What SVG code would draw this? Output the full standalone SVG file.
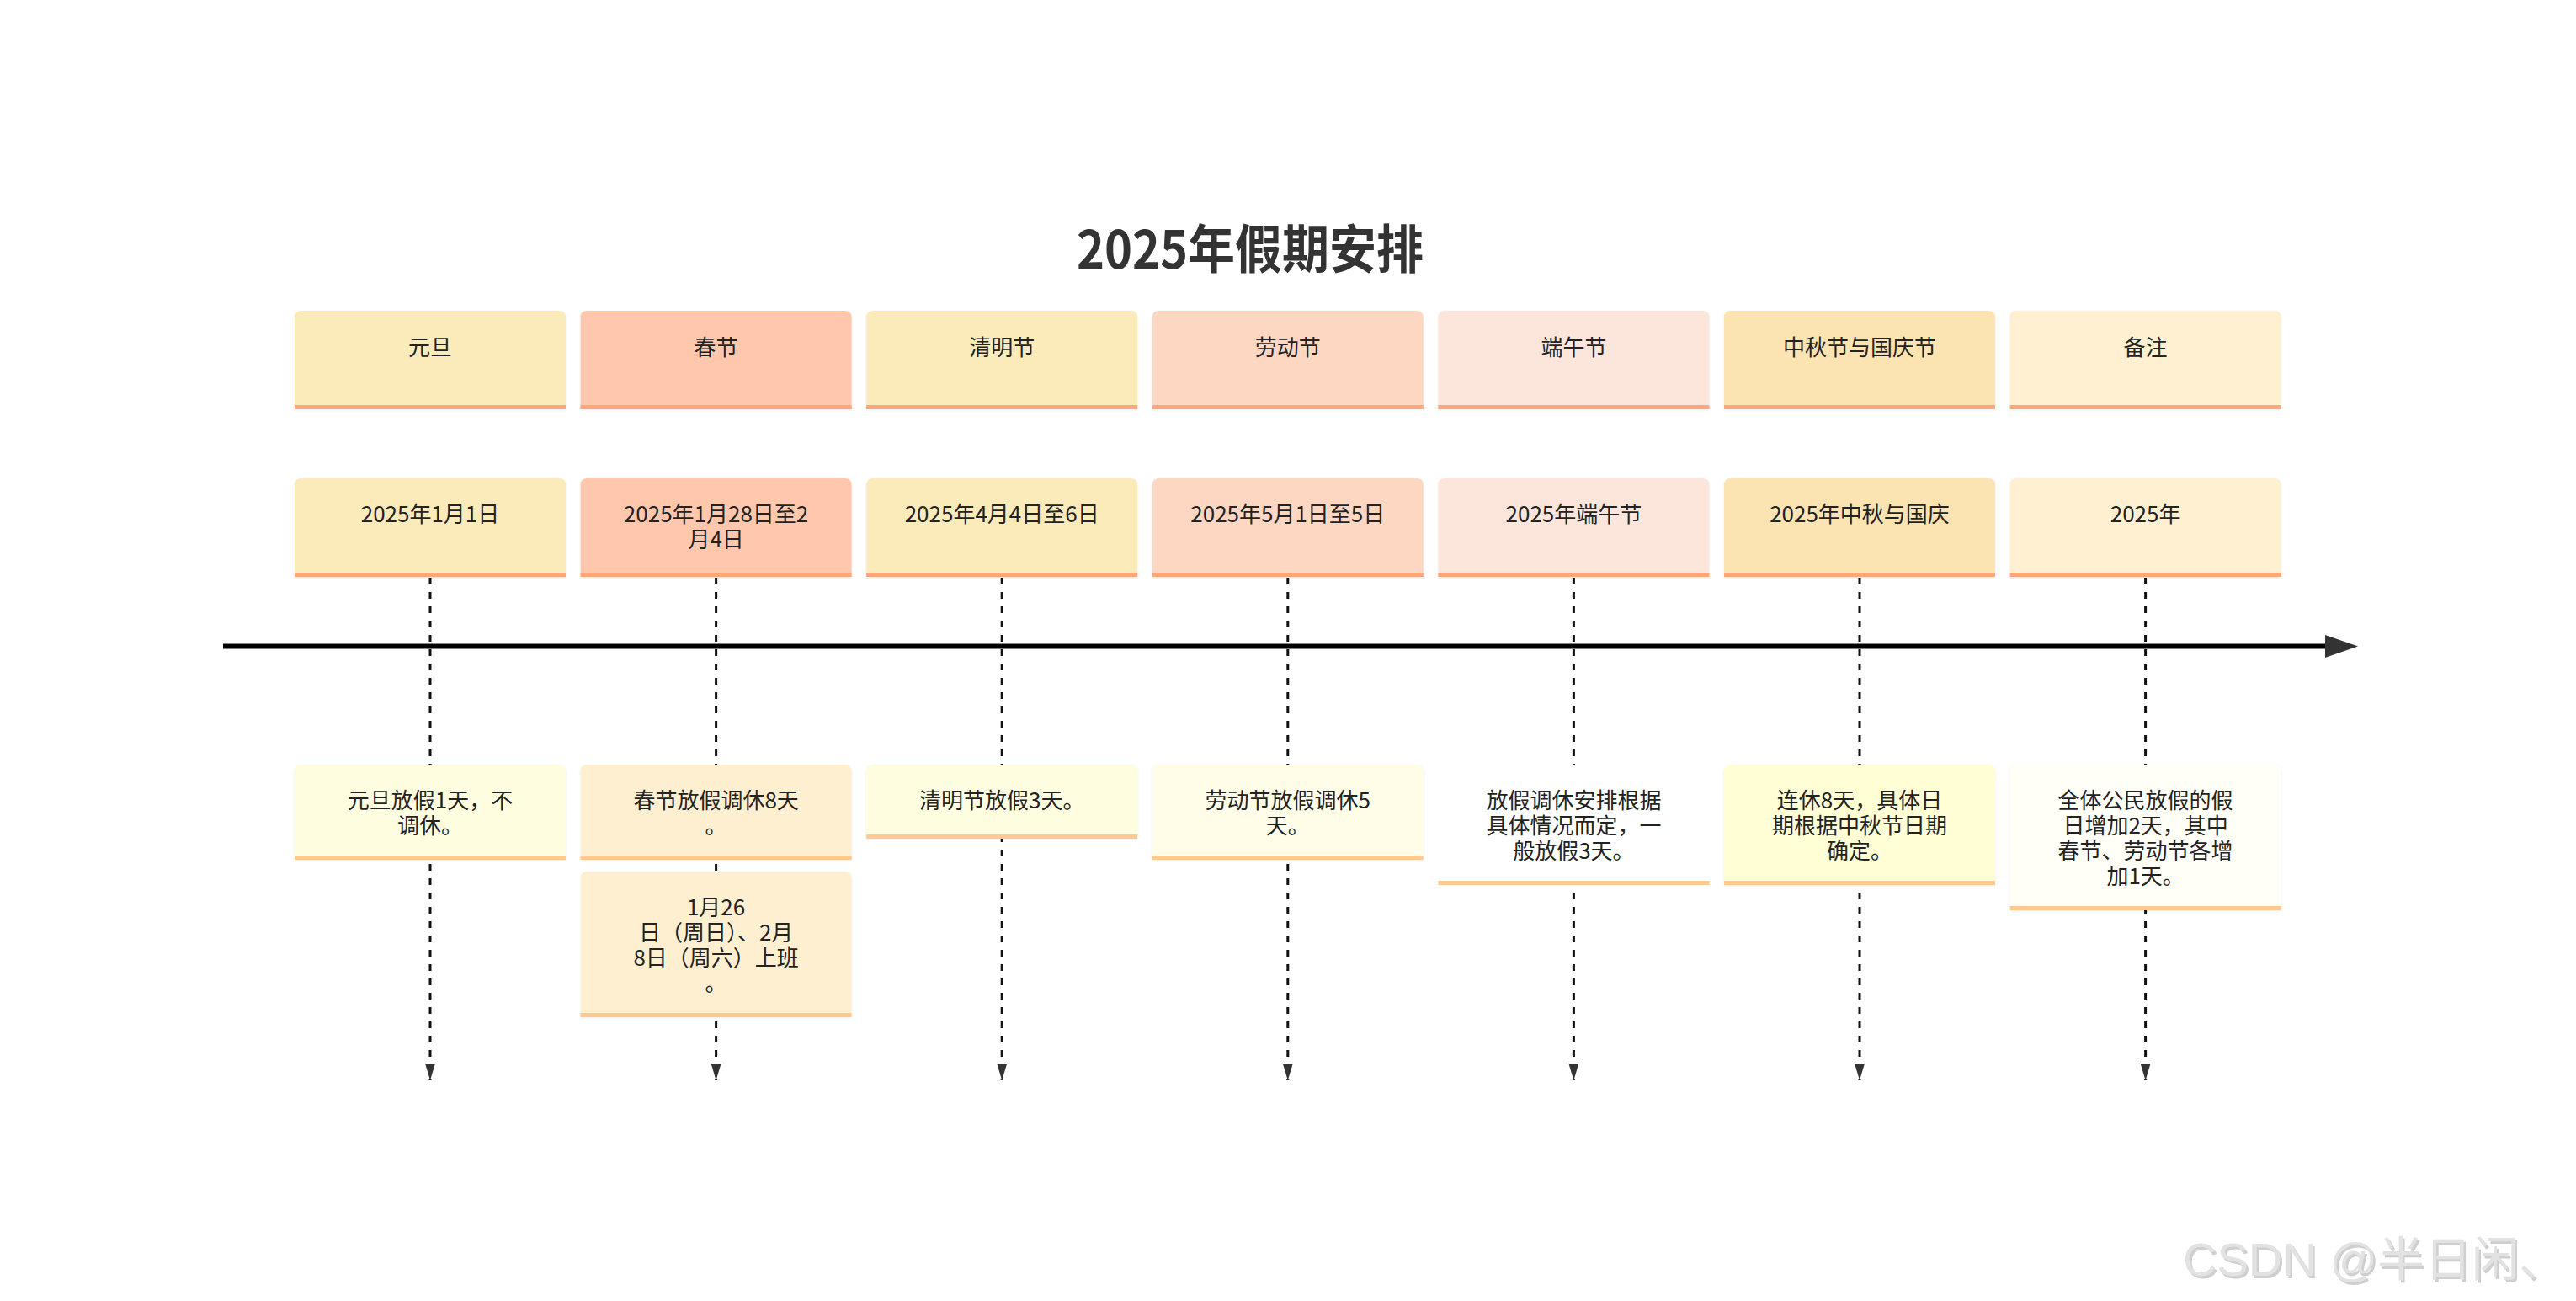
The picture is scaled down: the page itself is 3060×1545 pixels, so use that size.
<svg xmlns="http://www.w3.org/2000/svg" width="3060" height="1545" viewBox="0 0 3060 1545">
<defs>
<style>
.t{font-family:"Noto Sans CJK SC","Noto Sans",sans-serif;font-size:26px;fill:#222;text-anchor:middle}
.title{font-family:"Noto Sans CJK SC","Noto Sans",sans-serif;font-size:62px;font-weight:bold;fill:#333;text-anchor:middle}
.hs{fill:#FFA77B}
.ds{fill:#FFC992}
.dash{stroke:#111;stroke-width:3;stroke-dasharray:8 9;fill:none}
.wm{font-family:"Liberation Sans","Noto Sans CJK SC",sans-serif;font-size:56px;fill:#E2E2E2}
</style>
<marker id="ah" viewBox="0 0 20 12" refX="20" refY="6" markerWidth="20" markerHeight="12" markerUnits="userSpaceOnUse" orient="auto">
<path d="M0,0 L20,6 L0,12 Z" fill="#333"/>
</marker>
<marker id="bigah" viewBox="0 0 39 27" refX="0" refY="13.5" markerWidth="39" markerHeight="27" markerUnits="userSpaceOnUse" orient="auto">
<path d="M0,0 L39,13.5 L0,27 Z" fill="#333"/>
</marker>
<filter id="sh" x="-5%" y="-10%" width="110%" height="125%">
<feDropShadow dx="0" dy="1" stdDeviation="1.5" flood-color="#000" flood-opacity="0.08"/>
</filter>
</defs>
<rect width="3060" height="1545" fill="#fff"/>

<text class="title" x="1485" y="319" textLength="412" lengthAdjust="spacingAndGlyphs">2025年假期安排</text>

<g id="connectors">
<line class="dash" x1="511" y1="686" x2="511" y2="1283" marker-end="url(#ah)"/>
<line class="dash" x1="850.6" y1="686" x2="850.6" y2="1283" marker-end="url(#ah)"/>
<line class="dash" x1="1190.2" y1="686" x2="1190.2" y2="1283" marker-end="url(#ah)"/>
<line class="dash" x1="1529.8" y1="686" x2="1529.8" y2="1283" marker-end="url(#ah)"/>
<line class="dash" x1="1869.4" y1="686" x2="1869.4" y2="1283" marker-end="url(#ah)"/>
<line class="dash" x1="2209" y1="686" x2="2209" y2="1283" marker-end="url(#ah)"/>
<line class="dash" x1="2548.6" y1="686" x2="2548.6" y2="1283" marker-end="url(#ah)"/>
<line x1="265" y1="767.5" x2="2762" y2="767.5" stroke="#000" stroke-width="6" marker-end="url(#bigah)"/>
</g>

<!-- Column 1 -->
<g id="h1"><path d="M350,486 V377 Q350,369 358,369 H664 Q672,369 672,377 V486 Z" fill="#FCEBBA" filter="url(#sh)"/><rect class="hs" x="350" y="481" width="322" height="5"/><text class="t" x="511" y="422">元旦</text></g>
<g id="d1"><path d="M350,685 V576 Q350,568 358,568 H664 Q672,568 672,576 V685 Z" fill="#FCEBBA" filter="url(#sh)"/><rect class="hs" x="350" y="680" width="322" height="5"/><text class="t" x="511" y="620">2025年1月1日</text></g>
<g id="n1"><path d="M350,1021 V916 Q350,908 358,908 H664 Q672,908 672,916 V1021 Z" fill="#FFFDE0" filter="url(#sh)"/><rect class="ds" x="350" y="1016" width="322" height="5"/><text class="t" x="511" y="960">元旦放假1天，不</text><text class="t" x="511" y="990">调休。</text></g>

<!-- Column 2 -->
<g id="h2"><path d="M689.6,486 V377 Q689.6,369 697.6,369 H1003.6 Q1011.6,369 1011.6,377 V486 Z" fill="#FFC8AD" filter="url(#sh)"/><rect class="hs" x="689.6" y="481" width="322" height="5"/><text class="t" x="850.6" y="422">春节</text></g>
<g id="d2"><path d="M689.6,685 V576 Q689.6,568 697.6,568 H1003.6 Q1011.6,568 1011.6,576 V685 Z" fill="#FFC8AD" filter="url(#sh)"/><rect class="hs" x="689.6" y="680" width="322" height="5"/><text class="t" x="850.6" y="620">2025年1月28日至2</text><text class="t" x="850.6" y="650">月4日</text></g>
<g id="n2"><path d="M689.6,1021 V916 Q689.6,908 697.6,908 H1003.6 Q1011.6,908 1011.6,916 V1021 Z" fill="#FEEFD0" filter="url(#sh)"/><rect class="ds" x="689.6" y="1016" width="322" height="5"/><text class="t" x="850.6" y="960">春节放假调休8天</text><text class="t" x="850.6" y="990">。</text></g>
<g id="n2b"><path d="M689.6,1208 V1043 Q689.6,1035 697.6,1035 H1003.6 Q1011.6,1035 1011.6,1043 V1208 Z" fill="#FEEFD0" filter="url(#sh)"/><rect class="ds" x="689.6" y="1203" width="322" height="5"/><text class="t" x="850.6" y="1087">1月26</text><text class="t" x="850.6" y="1117">日（周日）、2月</text><text class="t" x="850.6" y="1147">8日（周六）上班</text><text class="t" x="850.6" y="1177">。</text></g>

<!-- Column 3 -->
<g id="h3"><path d="M1029.2,486 V377 Q1029.2,369 1037.2,369 H1343.2 Q1351.2,369 1351.2,377 V486 Z" fill="#FCEBBA" filter="url(#sh)"/><rect class="hs" x="1029.2" y="481" width="322" height="5"/><text class="t" x="1190.2" y="422">清明节</text></g>
<g id="d3"><path d="M1029.2,685 V576 Q1029.2,568 1037.2,568 H1343.2 Q1351.2,568 1351.2,576 V685 Z" fill="#FCEBBA" filter="url(#sh)"/><rect class="hs" x="1029.2" y="680" width="322" height="5"/><text class="t" x="1190.2" y="620">2025年4月4日至6日</text></g>
<g id="n3"><path d="M1029.2,996 V916 Q1029.2,908 1037.2,908 H1343.2 Q1351.2,908 1351.2,916 V996 Z" fill="#FFFDDF" filter="url(#sh)"/><rect class="ds" x="1029.2" y="991" width="322" height="5"/><text class="t" x="1190.2" y="960">清明节放假3天。</text></g>

<!-- Column 4 -->
<g id="h4"><path d="M1368.8,486 V377 Q1368.8,369 1376.8,369 H1682.8 Q1690.8,369 1690.8,377 V486 Z" fill="#FED7C3" filter="url(#sh)"/><rect class="hs" x="1368.8" y="481" width="322" height="5"/><text class="t" x="1529.8" y="422">劳动节</text></g>
<g id="d4"><path d="M1368.8,685 V576 Q1368.8,568 1376.8,568 H1682.8 Q1690.8,568 1690.8,576 V685 Z" fill="#FED7C3" filter="url(#sh)"/><rect class="hs" x="1368.8" y="680" width="322" height="5"/><text class="t" x="1529.8" y="620">2025年5月1日至5日</text></g>
<g id="n4"><path d="M1368.8,1021 V916 Q1368.8,908 1376.8,908 H1682.8 Q1690.8,908 1690.8,916 V1021 Z" fill="#FFFDE8" filter="url(#sh)"/><rect class="ds" x="1368.8" y="1016" width="322" height="5"/><text class="t" x="1529.8" y="960">劳动节放假调休5</text><text class="t" x="1529.8" y="990">天。</text></g>

<!-- Column 5 -->
<g id="h5"><path d="M1708.4,486 V377 Q1708.4,369 1716.4,369 H2022.4 Q2030.4,369 2030.4,377 V486 Z" fill="#FCE5DA" filter="url(#sh)"/><rect class="hs" x="1708.4" y="481" width="322" height="5"/><text class="t" x="1869.4" y="422">端午节</text></g>
<g id="d5"><path d="M1708.4,685 V576 Q1708.4,568 1716.4,568 H2022.4 Q2030.4,568 2030.4,576 V685 Z" fill="#FCE5DA" filter="url(#sh)"/><rect class="hs" x="1708.4" y="680" width="322" height="5"/><text class="t" x="1869.4" y="620">2025年端午节</text></g>
<g id="n5"><path d="M1708.4,1051 V916 Q1708.4,908 1716.4,908 H2022.4 Q2030.4,908 2030.4,916 V1051 Z" fill="#FFFFFF"/><rect class="ds" x="1708.4" y="1046" width="322" height="5"/><text class="t" x="1869.4" y="960">放假调休安排根据</text><text class="t" x="1869.4" y="990">具体情况而定，一</text><text class="t" x="1869.4" y="1020">般放假3天。</text></g>

<!-- Column 6 -->
<g id="h6"><path d="M2048,486 V377 Q2048,369 2056,369 H2362 Q2370,369 2370,377 V486 Z" fill="#FBE3B2" filter="url(#sh)"/><rect class="hs" x="2048" y="481" width="322" height="5"/><text class="t" x="2209" y="422">中秋节与国庆节</text></g>
<g id="d6"><path d="M2048,685 V576 Q2048,568 2056,568 H2362 Q2370,568 2370,576 V685 Z" fill="#FBE3B2" filter="url(#sh)"/><rect class="hs" x="2048" y="680" width="322" height="5"/><text class="t" x="2209" y="620">2025年中秋与国庆</text></g>
<g id="n6"><path d="M2048,1051 V916 Q2048,908 2056,908 H2362 Q2370,908 2370,916 V1051 Z" fill="#FFFED4" filter="url(#sh)"/><rect class="ds" x="2048" y="1046" width="322" height="5"/><text class="t" x="2209" y="960">连休8天，具体日</text><text class="t" x="2209" y="990">期根据中秋节日期</text><text class="t" x="2209" y="1020">确定。</text></g>

<!-- Column 7 -->
<g id="h7"><path d="M2387.6,486 V377 Q2387.6,369 2395.6,369 H2701.6 Q2709.6,369 2709.6,377 V486 Z" fill="#FEF0D0" filter="url(#sh)"/><rect class="hs" x="2387.6" y="481" width="322" height="5"/><text class="t" x="2548.6" y="422">备注</text></g>
<g id="d7"><path d="M2387.6,685 V576 Q2387.6,568 2395.6,568 H2701.6 Q2709.6,568 2709.6,576 V685 Z" fill="#FEF0D0" filter="url(#sh)"/><rect class="hs" x="2387.6" y="680" width="322" height="5"/><text class="t" x="2548.6" y="620">2025年</text></g>
<g id="n7"><path d="M2387.6,1081 V916 Q2387.6,908 2395.6,908 H2701.6 Q2709.6,908 2709.6,916 V1081 Z" fill="#FFFEF7" filter="url(#sh)"/><rect class="ds" x="2387.6" y="1076" width="322" height="5"/><text class="t" x="2548.6" y="960">全体公民放假的假</text><text class="t" x="2548.6" y="990">日增加2天，其中</text><text class="t" x="2548.6" y="1020">春节、劳动节各增</text><text class="t" x="2548.6" y="1050">加1天。</text></g>

<text class="wm" x="2594" y="1516" fill="#C8C8C8" style="fill:#CFCFCF" dx="1.5" dy="1.5">CSDN @半日闲、</text>
<text class="wm" x="2593" y="1515">CSDN @半日闲、</text>
</svg>
